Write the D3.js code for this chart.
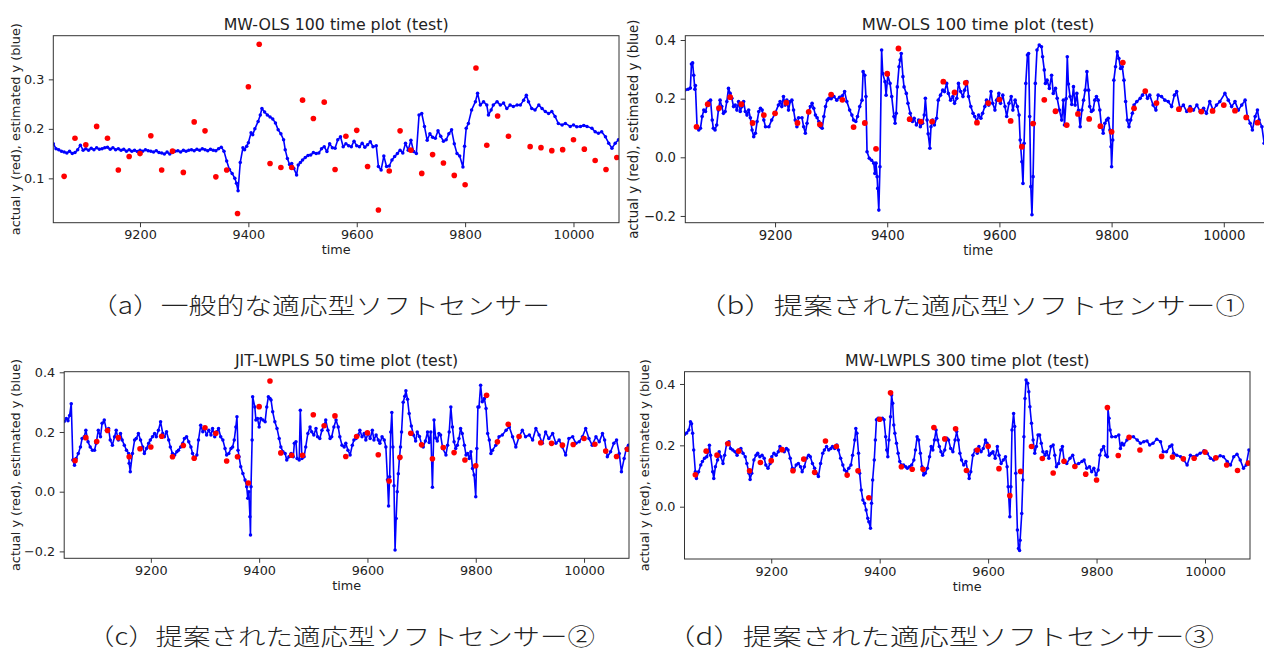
<!DOCTYPE html>
<html>
<head>
<meta charset="utf-8">
<script src="https://cdn.jsdelivr.net/npm/d3@7"></script>
<style>
  body { margin: 0; background: #fff; }
  svg { display: block; }
</style>
</head>
<body>
<svg id="fig" width="1264" height="652"></svg>
<script>
// actual y (red) - the same measurements in every panel
const actualTime = [9060, 9080, 9100, 9120, 9140, 9160, 9180, 9200, 9220, 9240, 9260, 9280, 9300, 9320, 9340, 9360,
  9380, 9400, 9420, 9440, 9460, 9480, 9500, 9520, 9540, 9560, 9580, 9600, 9620, 9640, 9660, 9680, 9700, 9720,
  9740, 9760, 9780, 9800, 9820, 9840, 9860, 9880, 9920, 9940, 9960, 9980, 10000, 10020, 10040, 10060, 10080];
const actualY = [0.104, 0.181, 0.168, 0.205, 0.181, 0.117, 0.144, 0.150, 0.186, 0.117, 0.155, 0.112, 0.214, 0.196,
  0.103, 0.117, 0.029, 0.285, 0.371, 0.130, 0.122, 0.122, 0.258, 0.221, 0.254, 0.118, 0.185, 0.197, 0.124, 0.036,
  0.115, 0.196, 0.157, 0.110, 0.148, 0.131, 0.106, 0.087, 0.323, 0.167, 0.226, 0.185, 0.164, 0.162, 0.156, 0.158,
  0.178, 0.159, 0.136, 0.118, 0.142];

// estimated y (blue), [time, value]
const estA = [[9040,.170],[9045,.160],[9050,.158],[9055,.155],[9060,.153],[9065,.151],[9070,.155],[9075,.150],[9080,.152],
  [9085,.158],[9090,.167],[9095,.157],[9100,.160],[9105,.157],[9110,.161],[9115,.158],[9120,.162],[9125,.159],[9130,.160],
  [9135,.162],[9140,.163],[9145,.159],[9150,.162],[9155,.158],[9160,.160],[9165,.157],[9170,.159],[9175,.155],[9180,.158],
  [9185,.155],[9190,.157],[9195,.154],[9200,.157],[9205,.155],[9210,.158],[9215,.156],[9220,.155],[9225,.153],[9230,.156],
  [9235,.152],[9240,.151],[9245,.149],[9250,.153],[9255,.149],[9260,.152],[9265,.155],[9270,.156],[9275,.153],[9280,.157],
  [9285,.155],[9290,.157],[9295,.158],[9300,.156],[9305,.159],[9310,.157],[9315,.160],[9320,.158],[9325,.156],[9330,.159],
  [9335,.157],[9340,.156],[9345,.160],[9350,.163],[9355,.155],[9360,.135],[9365,.118],[9370,.110],[9375,.100],[9378,.090],
  [9381,.075],[9385,.132],[9390,.162],[9393,.158],[9397,.165],[9400,.172],[9405,.192],[9408,.188],[9412,.200],[9418,.215],
  [9422,.228],[9425,.241],[9430,.234],[9435,.228],[9440,.224],[9445,.220],[9450,.212],[9455,.198],[9460,.190],[9465,.178],
  [9468,.158],[9472,.140],[9476,.128],[9480,.130],[9484,.120],[9489,.107],[9492,.127],[9496,.132],[9500,.137],[9505,.142],
  [9510,.146],[9515,.147],[9520,.152],[9525,.150],[9530,.151],[9535,.160],[9540,.164],[9545,.154],[9550,.170],[9555,.162],
  [9560,.161],[9565,.178],[9570,.184],[9575,.164],[9580,.170],[9585,.166],[9590,.164],[9595,.175],[9600,.166],[9605,.164],
  [9610,.171],[9615,.163],[9620,.168],[9625,.174],[9630,.164],[9636,.166],[9640,.124],[9645,.117],[9650,.145],[9655,.124],
  [9660,.125],[9665,.137],[9670,.144],[9675,.150],[9680,.157],[9685,.151],[9690,.171],[9695,.157],[9700,.177],[9705,.154],
  [9710,.150],[9715,.228],[9720,.231],[9725,.205],[9730,.177],[9735,.190],[9740,.183],[9745,.181],[9750,.196],[9755,.185],
  [9760,.175],[9765,.178],[9770,.190],[9775,.198],[9780,.170],[9785,.150],[9790,.145],[9796,.123],[9799,.165],[9802,.201],
  [9806,.211],[9812,.238],[9819,.255],[9823,.272],[9828,.248],[9834,.255],[9840,.248],[9843,.228],[9848,.238],[9852,.248],
  [9859,.255],[9865,.248],[9871,.252],[9877,.241],[9883,.248],[9889,.245],[9896,.248],[9902,.248],[9908,.258],[9913,.268],
  [9917,.255],[9923,.241],[9929,.238],[9936,.248],[9942,.241],[9948,.235],[9954,.231],[9960,.235],[9966,.225],[9972,.211],
  [9979,.208],[9985,.211],[9994,.205],[10000,.208],[10006,.204],[10013,.205],[10019,.207],[10025,.205],[10034,.201],
  [10040,.194],[10046,.191],[10052,.194],[10059,.184],[10065,.171],[10071,.161],[10077,.171],[10083,.178]];

const estB = [[9040,.230],[9045,.232],[9049,.236],[9051,.318],[9053,.322],[9055,.280],[9057,.232],[9058,.245],[9061,.104],
  [9064,.093],[9067,.099],[9070,.139],[9073,.161],[9076,.156],[9079,.178],[9082,.190],[9085,.195],[9088,.127],[9090,.099],
  [9093,.093],[9096,.110],[9099,.161],[9102,.195],[9105,.173],[9108,.150],[9111,.156],[9114,.190],[9117,.235],[9120,.218],
  [9123,.201],[9126,.173],[9129,.178],[9132,.161],[9135,.190],[9138,.156],[9141,.173],[9144,.190],[9147,.156],[9150,.144],
  [9153,.161],[9156,.135],[9159,.093],[9162,.070],[9165,.082],[9168,.122],[9171,.156],[9174,.167],[9177,.161],[9180,.127],
  [9183,.104],[9189,.104],[9194,.127],[9200,.150],[9206,.178],[9209,.190],[9212,.173],[9215,.207],[9218,.178],[9221,.195],
  [9224,.161],[9227,.190],[9230,.195],[9233,.161],[9236,.127],[9239,.104],[9242,.135],[9248,.135],[9251,.104],[9254,.082],
  [9257,.116],[9260,.156],[9263,.173],[9266,.184],[9269,.167],[9272,.144],[9275,.135],[9278,.122],[9281,.104],[9284,.099],
  [9287,.139],[9290,.173],[9293,.195],[9296,.201],[9300,.200],[9305,.207],[9310,.195],[9315,.205],[9320,.210],[9324,.224],
  [9328,.190],[9333,.161],[9337,.144],[9340,.127],[9344,.122],[9347,.139],[9351,.173],[9355,.195],[9357,.292],[9360,.280],
  [9362,.207],[9364,.019],[9368,-.003],[9372,-.010],[9376,-.020],[9378,-.055],[9380,-.020],[9382,-.066],[9383,-.106],
  [9385,-.180],[9387,-.032],[9390,.366],[9392,.286],[9396,.258],[9398,.212],[9401,.280],[9405,.252],[9408,.207],[9412,.139],
  [9414,.116],[9416,.150],[9418,.240],[9421,.309],[9423,.332],[9425,.354],[9428,.275],[9430,.240],[9434,.218],[9437,.184],
  [9441,.150],[9445,.122],[9448,.133],[9452,.110],[9456,.127],[9459,.104],[9463,.116],[9466,.144],[9468,.201],[9471,.127],
  [9473,.080],[9476,.031],[9478,.104],[9481,.127],[9484,.110],[9488,.133],[9491,.195],[9495,.212],[9499,.229],[9502,.224],
  [9506,.252],[9509,.218],[9513,.195],[9517,.207],[9520,.184],[9524,.201],[9527,.252],[9531,.224],[9535,.207],[9538,.229],
  [9542,.258],[9545,.207],[9549,.173],[9553,.150],[9556,.139],[9560,.122],[9563,.144],[9567,.133],[9570,.150],[9574,.173],
  [9577,.195],[9581,.178],[9585,.224],[9588,.184],[9592,.161],[9595,.195],[9599,.218],[9602,.184],[9606,.212],[9610,.173],
  [9613,.139],[9617,.184],[9621,.207],[9624,.161],[9628,.195],[9632,.173],[9635,.144],[9637,.059],[9640,-.015],[9642,-.089],
  [9644,.048],[9647,.252],[9650,.349],[9652,.354],[9654,.139],[9656,-.100],[9658,-.196],[9660,-.066],[9662,.116],[9664,.252],
  [9667,.366],[9671,.383],[9675,.377],[9677,.343],[9680,.298],[9682,.252],[9685,.263],[9689,.235],[9693,.280],[9696,.218],
  [9700,.235],[9703,.201],[9707,.161],[9711,.127],[9714,.195],[9716,.110],[9719,.200],[9721,.343],[9723,.250],[9726,.207],
  [9729,.180],[9732,.241],[9735,.178],[9738,.218],[9741,.160],[9744,.104],[9747,.161],[9750,.195],[9753,.229],[9756,.292],
  [9759,.229],[9761,.173],[9764,.156],[9767,.161],[9770,.195],[9773,.207],[9776,.195],[9779,.161],[9782,.104],[9785,.082],
  [9788,.116],[9791,.127],[9794,.133],[9797,.093],[9799,.036],[9800,-.032],[9802,.059],[9804,.263],[9807,.309],[9810,.360],
  [9813,.337],[9816,.303],[9819,.309],[9822,.263],[9825,.190],[9828,.127],[9831,.104],[9834,.127],[9837,.150],[9840,.178],
  [9845,.190],[9851,.201],[9855,.212],[9860,.224],[9864,.201],[9868,.212],[9874,.178],[9879,.161],[9883,.212],[9889,.207],
  [9895,.195],[9901,.190],[9907,.173],[9912,.212],[9916,.224],[9922,.167],[9928,.178],[9934,.156],[9940,.173],[9946,.161],
  [9952,.178],[9958,.156],[9964,.167],[9969,.150],[9975,.190],[9981,.161],[9987,.178],[9993,.190],[10002,.218],[10008,.195],
  [10014,.173],[10020,.190],[10026,.161],[10032,.178],[10038,.195],[10042,.139],[10047,.116],[10051,.093],[10056,.139],
  [10060,.161],[10063,.127],[10068,.104],[10072,.048]];

const estC = [[9040,.235],[9044,.245],[9047,.238],[9050,.255],[9053,.295],[9056,.106],[9059,.089],[9062,.111],[9066,.128],
  [9070,.150],[9073,.178],[9077,.184],[9080,.206],[9084,.167],[9088,.150],[9092,.139],[9096,.139],[9099,.162],[9103,.206],
  [9107,.184],[9110,.229],[9114,.240],[9118,.206],[9122,.212],[9125,.173],[9129,.156],[9133,.184],[9136,.206],[9140,.173],
  [9144,.195],[9147,.173],[9151,.156],[9155,.139],[9159,.128],[9160,.095],[9162,.067],[9166,.128],[9170,.173],[9173,.178],
  [9177,.195],[9181,.173],[9185,.150],[9188,.128],[9192,.145],[9196,.162],[9199,.173],[9203,.184],[9207,.195],[9210,.184],
  [9214,.206],[9218,.234],[9222,.195],[9225,.184],[9229,.201],[9233,.173],[9236,.150],[9240,.128],[9244,.123],[9248,.134],
  [9251,.139],[9255,.150],[9259,.162],[9262,.178],[9266,.184],[9270,.167],[9274,.150],[9277,.128],[9281,.111],[9285,.123],
  [9288,.173],[9292,.223],[9296,.201],[9299,.212],[9303,.190],[9307,.206],[9311,.190],[9314,.212],[9318,.184],[9322,.201],
  [9325,.212],[9329,.184],[9333,.173],[9337,.145],[9340,.123],[9344,.128],[9348,.145],[9351,.150],[9354,.173],[9357,.217],
  [9359,.251],[9361,.139],[9363,.117],[9366,.084],[9370,.061],[9374,.039],[9377,.017],[9379,-.022],[9381,.000],[9383,-.084],
  [9384,-.145],[9385,.017],[9387,.173],[9388,.318],[9392,.284],[9394,.240],[9397,.245],[9400,.217],[9403,.245],[9407,.240],
  [9411,.234],[9414,.284],[9417,.318],[9420,.312],[9422,.307],[9425,.268],[9429,.234],[9433,.212],[9437,.178],[9440,.150],
  [9444,.134],[9448,.128],[9451,.106],[9455,.117],[9459,.128],[9463,.117],[9465,.162],[9468,.167],[9470,.111],[9474,.106],
  [9476,.273],[9479,.111],[9483,.117],[9486,.150],[9490,.195],[9494,.217],[9497,.201],[9501,.190],[9505,.212],[9508,.184],
  [9512,.178],[9516,.206],[9520,.223],[9523,.240],[9527,.206],[9531,.178],[9534,.184],[9538,.217],[9542,.240],[9546,.217],
  [9549,.184],[9553,.156],[9557,.150],[9560,.162],[9564,.139],[9568,.123],[9572,.156],[9575,.173],[9579,.178],[9583,.190],
  [9586,.206],[9590,.184],[9594,.195],[9597,.173],[9601,.195],[9605,.178],[9609,.206],[9612,.173],[9616,.190],[9620,.173],
  [9623,.162],[9627,.184],[9631,.173],[9634,.150],[9637,.040],[9639,-.048],[9641,.050],[9643,.200],[9645,.265],[9647,.150],
  [9649,.020],[9651,-.195],[9653,-.090],[9655,.000],[9657,.060],[9659,.110],[9661,.150],[9663,.200],[9666,.300],[9669,.320],
  [9671,.338],[9674,.310],[9677,.262],[9681,.220],[9685,.190],[9689,.170],[9692,.200],[9696,.185],[9700,.160],[9703,.150],
  [9707,.170],[9711,.200],[9714,.165],[9717,.200],[9720,.015],[9723,.240],[9726,.180],[9729,.170],[9732,.195],[9735,.190],
  [9739,.145],[9745,.123],[9748,.156],[9751,.200],[9754,.284],[9757,.217],[9760,.167],[9763,.145],[9766,.156],[9769,.178],
  [9772,.212],[9775,.195],[9779,.156],[9782,.123],[9785,.128],[9788,.111],[9791,.134],[9794,.078],[9797,.056],[9800,-.017],
  [9802,.145],[9804,.284],[9806,.284],[9809,.357],[9812,.301],[9816,.312],[9819,.279],[9822,.195],[9825,.173],[9828,.128],
  [9831,.139],[9837,.156],[9843,.184],[9849,.190],[9856,.206],[9862,.217],[9868,.184],[9874,.150],[9880,.184],[9886,.206],
  [9892,.184],[9899,.190],[9905,.173],[9911,.212],[9917,.190],[9923,.162],[9929,.200],[9935,.178],[9942,.195],[9948,.162],
  [9954,.173],[9960,.150],[9966,.123],[9972,.178],[9979,.184],[9985,.162],[9991,.167],[9997,.184],[10003,.212],[10009,.178],
  [10015,.156],[10022,.184],[10028,.167],[10034,.195],[10038,.173],[10043,.117],[10049,.134],[10055,.162],[10060,.173],
  [10065,.128],[10069,.067],[10074,.111],[10078,.145],[10082,.156]];

const estD = [[9040,.235],[9044,.240],[9048,.250],[9051,.277],[9053,.270],[9055,.239],[9057,.185],[9060,.114],[9062,.092],
  [9066,.114],[9070,.136],[9073,.147],[9077,.158],[9081,.163],[9084,.179],[9086,.200],[9088,.168],[9092,.114],[9094,.092],
  [9097,.130],[9101,.152],[9104,.179],[9107,.163],[9111,.141],[9114,.168],[9118,.207],[9122,.212],[9125,.190],[9129,.185],
  [9133,.179],[9137,.168],[9140,.185],[9144,.190],[9148,.174],[9152,.163],[9155,.141],[9159,.109],[9161,.089],[9164,.109],
  [9168,.152],[9172,.168],[9175,.174],[9179,.163],[9183,.168],[9187,.158],[9190,.136],[9194,.125],[9198,.141],[9201,.163],
  [9205,.174],[9209,.168],[9213,.179],[9216,.196],[9220,.185],[9224,.179],[9228,.190],[9231,.185],[9235,.158],[9239,.125],
  [9242,.120],[9246,.136],[9250,.141],[9254,.130],[9257,.114],[9261,.130],[9265,.158],[9269,.168],[9272,.163],[9276,.141],
  [9280,.125],[9283,.109],[9287,.098],[9291,.141],[9295,.174],[9298,.185],[9302,.196],[9306,.185],[9310,.190],[9313,.196],
  [9317,.190],[9321,.201],[9324,.185],[9328,.158],[9332,.136],[9335,.120],[9339,.114],[9343,.125],[9347,.136],[9350,.168],
  [9354,.217],[9356,.255],[9358,.239],[9361,.174],[9363,.109],[9366,.054],[9369,.022],[9372,.011],[9375,-.011],[9378,-.038],
  [9380,-.049],[9383,-.070],[9385,.011],[9387,.087],[9390,.152],[9392,.217],[9394,.283],[9397,.288],[9401,.283],[9405,.288],
  [9408,.283],[9411,.228],[9413,.185],[9415,.163],[9417,.217],[9420,.293],[9422,.364],[9424,.337],[9426,.266],[9428,.239],
  [9431,.207],[9434,.174],[9437,.147],[9440,.136],[9444,.136],[9448,.130],[9451,.125],[9455,.130],[9459,.136],[9463,.152],
  [9466,.185],[9469,.228],[9472,.217],[9475,.174],[9478,.130],[9481,.103],[9484,.109],[9488,.125],[9492,.163],[9495,.196],
  [9498,.185],[9501,.217],[9504,.250],[9507,.217],[9510,.196],[9513,.179],[9516,.168],[9520,.185],[9524,.223],[9527,.217],
  [9531,.190],[9535,.179],[9539,.217],[9542,.245],[9545,.217],[9548,.174],[9551,.152],[9555,.136],[9559,.147],[9562,.120],
  [9565,.092],[9568,.114],[9572,.168],[9576,.185],[9580,.174],[9583,.196],[9587,.179],[9591,.190],[9595,.217],[9598,.207],
  [9602,.168],[9606,.174],[9609,.179],[9613,.158],[9617,.196],[9620,.168],[9624,.141],[9628,.152],[9632,.163],[9635,.130],
  [9637,.065],[9640,-.033],[9642,.065],[9644,.250],[9647,.304],[9649,.261],[9651,.109],[9654,-.076],[9656,-.136],[9658,-.143],
  [9659,-.109],[9662,-.022],[9664,.087],[9666,.228],[9668,.353],[9670,.413],[9673,.402],[9675,.375],[9677,.326],[9680,.272],
  [9683,.217],[9686,.174],[9689,.196],[9692,.234],[9695,.234],[9698,.207],[9701,.179],[9705,.168],[9708,.179],[9712,.158],
  [9716,.196],[9720,.201],[9723,.168],[9726,.130],[9730,.141],[9734,.185],[9737,.196],[9740,.152],[9745,.141],[9751,.158],
  [9756,.168],[9761,.136],[9767,.141],[9773,.147],[9777,.152],[9782,.125],[9787,.130],[9791,.114],[9795,.125],[9799,.103],
  [9803,.120],[9806,.168],[9809,.185],[9813,.196],[9817,.168],[9820,.163],[9821,.321],[9823,.288],[9825,.250],[9828,.228],
  [9835,.228],[9841,.234],[9844,.190],[9847,.207],[9850,.201],[9856,.217],[9862,.228],[9868,.228],[9875,.217],[9881,.207],
  [9887,.212],[9893,.214],[9898,.201],[9904,.207],[9911,.220],[9918,.212],[9923,.179],[9929,.179],[9935,.196],[9939,.201],
  [9942,.174],[9948,.168],[9955,.163],[9961,.152],[9967,.136],[9973,.168],[9979,.163],[9985,.168],[9991,.174],[9998,.182],
  [10004,.174],[10010,.158],[10016,.152],[10022,.160],[10028,.166],[10034,.163],[10041,.147],[10047,.136],[10053,.163],
  [10059,.171],[10065,.152],[10071,.125],[10076,.136],[10081,.185]];

const xTicks = [9200, 9400, 9600, 9800, 10000];
const yTicksA = [0.1, 0.2, 0.3];
const yTicksB = [-0.2, 0.0, 0.2, 0.4];
const yTicksC = [-0.2, 0.0, 0.2, 0.4];
const yTicksD = [0.0, 0.2, 0.4];

const titles = ['MW-OLS 100 time plot (test)', 'MW-OLS 100 time plot (test)',
  'JIT-LWPLS 50 time plot (test)', 'MW-LWPLS 300 time plot (test)'];
const captions = ['（a）一般的な適応型ソフトセンサー', '（b）提案された適応型ソフトセンサー①',
  '（c）提案された適応型ソフトセンサー②', '（d）提案された適応型ソフトセンサー③'];
const yLabel = 'actual y (red), estimated y (blue)';
const xLabel = 'time';

const svg = d3.select('#fig');
const font = '"DejaVu Sans", sans-serif';

function drawPanel(p) {
  const x = d3.scaleLinear().domain(p.xDomain).range([p.left, p.right]);
  const y = d3.scaleLinear().domain(p.yDomain).range([p.bottom, p.top]);
  const fs = 12.8 * p.k;
  const g = svg.append('g');

  svg.append('clipPath').attr('id', 'clip' + p.id)
    .append('rect')
    .attr('x', p.left).attr('y', p.top)
    .attr('width', p.right - p.left).attr('height', p.bottom - p.top);

  const plot = g.append('g').attr('clip-path', `url(#clip${p.id})`);

  const line = d3.line().x(d => x(d[0])).y(d => y(d[1]));
  plot.append('path')
    .datum(p.est)
    .attr('d', line)
    .attr('fill', 'none')
    .attr('stroke', '#0000ff')
    .attr('stroke-width', 1.6 * p.k)
    .attr('stroke-linejoin', 'round');

  plot.selectAll('.est')
    .data(p.est)
    .enter()
    .append('circle')
    .attr('class', 'est')
    .attr('cx', d => x(d[0]))
    .attr('cy', d => y(d[1]))
    .attr('r', 1.75 * p.k)
    .attr('fill', '#0000ff');

  plot.selectAll('.act')
    .data(actualTime.map((t, i) => [t, actualY[i]]))
    .enter()
    .append('circle')
    .attr('class', 'act')
    .attr('cx', d => x(d[0]))
    .attr('cy', d => y(d[1]))
    .attr('r', 2.8 * p.k)
    .attr('fill', '#ff0000');

  // axes
  const xAxis = d3.axisBottom(x).tickValues(xTicks).tickSize(4.5 * p.k).tickPadding(3 * p.k).tickFormat(d3.format('d'));
  const yAxis = d3.axisLeft(y).tickValues(p.yTicks).tickSize(4.5 * p.k).tickPadding(4.5 * p.k).tickFormat(d3.format('.1f'));

  const gx = g.append('g').attr('transform', `translate(0,${p.bottom})`).call(xAxis);
  const gy = g.append('g').attr('transform', `translate(${p.left},0)`).call(yAxis);
  [gx, gy].forEach(a => {
    a.select('.domain').remove();
    a.attr('font-family', font).attr('font-size', fs);
    a.selectAll('line').attr('stroke', '#222').attr('stroke-width', 0.9);
    a.selectAll('text').attr('fill', '#222');
  });

  // frame
  g.append('rect')
    .attr('x', p.left).attr('y', p.top)
    .attr('width', p.right - p.left).attr('height', p.bottom - p.top)
    .attr('fill', 'none')
    .attr('stroke', '#333')
    .attr('stroke-width', 1);

  g.append('text')
    .attr('x', (p.left + p.right) / 2)
    .attr('y', p.top - 5.5)
    .attr('text-anchor', 'middle')
    .attr('font-family', font)
    .attr('font-size', 15.8 * p.k)
    .attr('fill', '#222')
    .text(p.title);

  g.append('text')
    .attr('x', (p.left + p.right) / 2)
    .attr('y', p.bottom + 31.5 * p.k)
    .attr('text-anchor', 'middle')
    .attr('font-family', font)
    .attr('font-size', fs)
    .attr('fill', '#222')
    .text(xLabel);

  g.append('text')
    .attr('transform', `translate(${p.ylabelX},${(p.top + p.bottom) / 2}) rotate(-90)`)
    .attr('text-anchor', 'middle')
    .attr('dominant-baseline', 'central')
    .attr('font-family', font)
    .attr('font-size', fs)
    .attr('fill', '#222')
    .text(yLabel);
}

const panels = [
  { id: 'a', left: 53.3, right: 619, top: 35.7, bottom: 222.7, xDomain: [9040, 10084], yDomain: [0.0104, 0.3882],
    yTicks: yTicksA, est: estA, title: titles[0], ylabelX: 15, k: 1 },
  { id: 'b', left: 685.3, right: 1270.9, top: 35.7, bottom: 222.7, xDomain: [9040, 10084], yDomain: [-0.223, 0.4147],
    yTicks: yTicksB, est: estB, title: titles[1], ylabelX: 633, k: 1.035 },
  { id: 'c', left: 64.2, right: 629, top: 371.7, bottom: 558.3, xDomain: [9040, 10083], yDomain: [-0.2231, 0.402],
    yTicks: yTicksC, est: estC, title: titles[2], ylabelX: 15, k: 1 },
  { id: 'd', left: 684.5, right: 1250, top: 371.7, bottom: 559, xDomain: [9040, 10083], yDomain: [-0.1705, 0.44],
    yTicks: yTicksD, est: estD, title: titles[3], ylabelX: 644, k: 1 }
];
panels.forEach(drawPanel);

// captions under each panel
const capPos = [
  { x: 90, y: 314, w: 460 },
  { x: 697, y: 314, w: 548 },
  { x: 87, y: 645, w: 508 },
  { x: 666, y: 645, w: 548 }
];
svg.selectAll('.cap')
  .data(captions)
  .enter()
  .append('text')
  .attr('class', 'cap')
  .attr('x', (d, i) => capPos[i].x)
  .attr('y', (d, i) => capPos[i].y)
  .attr('textLength', (d, i) => capPos[i].w)
  .attr('lengthAdjust', 'spacingAndGlyphs')
  .attr('font-family', '"Noto Sans CJK JP", sans-serif')
  .attr('font-weight', 300)
  .attr('font-size', 23)
  .attr('fill', '#222')
  .text(d => d);
</script>
</body>
</html>
